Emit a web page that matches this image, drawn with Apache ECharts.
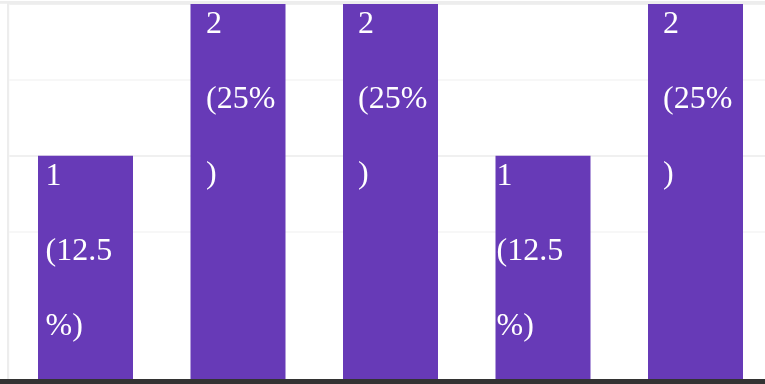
<!DOCTYPE html>
<html>
<head>
<meta charset="utf-8">
<title>Share by item</title>
<script src="https://cdn.jsdelivr.net/npm/echarts@6/dist/echarts.min.js"></script>
<style>
  html, body { margin: 0; padding: 0; background: #fff; overflow: hidden; }
  #chart { width: 772px; height: 384px; }
</style>
</head>
<body>
<div id="chart"></div>
<script>
// Item names and counts
var categories = ['Item 1', 'Item 2', 'Item 3', 'Item 4', 'Item 5'];
var counts = [1, 2, 2, 1, 2];

// Horizontal inset of each bar's label, in px from the bar's left edge
var labelInsetX = [7.5, 15.5, 15, 1, 15];

var total = counts.reduce(function (a, b) { return a + b; }, 0);

var seriesData = counts.map(function (v, i) {
  return {
    value: v,
    label: { position: [labelInsetX[i], -17] }
  };
});

var chart = echarts.init(document.getElementById('chart'), null, { renderer: 'canvas' });

chart.setOption({
  animation: false,
  backgroundColor: '#ffffff',
  grid: { left: 9.25, top: 4, right: 0.25, height: 379.25, containLabel: false },
  xAxis: {
    type: 'category',
    data: categories,
    axisLine: { show: false },
    axisTick: { show: false },
    axisLabel: { show: false },
    splitLine: { show: false }
  },
  yAxis: {
    type: 'value',
    min: -0.5,
    max: 2,
    interval: 0.5,
    startValue: -0.5,
    axisLine: { show: false },
    axisTick: { show: false },
    axisLabel: { show: false },
    splitLine: {
      show: true,
      lineStyle: {
        width: 1.5,
        color: ['rgba(0,0,0,0)', 'rgba(0,0,0,0)', '#f4f4f4', '#ebebeb', '#f4f4f4', '#ebebeb']
      }
    }
  },
  series: [{
    type: 'bar',
    data: seriesData,
    barWidth: 95,
    itemStyle: { color: '#673ab7' },
    label: {
      show: true,
      align: 'left',
      verticalAlign: 'top',
      color: '#ffffff',
      fontFamily: 'Liberation Serif',
      fontSize: 32,
      lineHeight: 75,
      width: 74,
      overflow: 'breakAll',
      formatter: function (p) {
        var pct = Math.round(p.value / total * 1000) / 10;
        return p.value + '\n(' + pct + '%)';
      }
    }
  }],
  graphic: [
    // frame: top rule, left rule, dark baseline
    { type: 'rect', z: 100, shape: { x: 0, y: 1, width: 772, height: 2.7 }, style: { fill: '#ededed' }, silent: true },
    { type: 'rect', z: 100, shape: { x: 7, y: 1, width: 2.2, height: 378 }, style: { fill: '#ededed' }, silent: true },
    { type: 'rect', z: 100, shape: { x: 0, y: 379, width: 772, height: 5 }, style: { fill: '#333333' }, silent: true }
  ]
});
</script>
</body>
</html>
